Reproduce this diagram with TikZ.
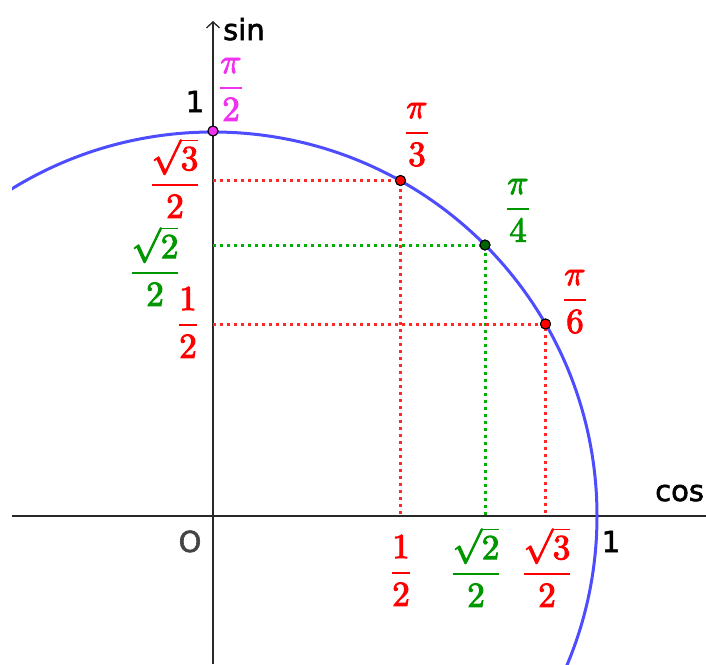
\documentclass[tikz,border=0pt]{standalone}
\usepackage[no-math]{fontspec}
\newfontfamily\labfont{DejaVu Sans}
\usetikzlibrary{arrows.meta}
\definecolor{circblue}{RGB}{77,77,255}
\definecolor{lred}{RGB}{255,0,0}
\definecolor{dred}{RGB}{255,40,40}
\definecolor{lgreen}{RGB}{0,150,0}
\definecolor{dgreen}{RGB}{0,175,0}
\definecolor{ptgreen}{RGB}{0,100,0}
\definecolor{lmag}{RGB}{240,50,240}
\definecolor{axisgray}{RGB}{40,40,40}
\definecolor{ogray}{RGB}{68,68,68}
\newcommand{\heavytext}[2]{\special{pdf:literal direct 2 Tr #1 w}#2\special{pdf:literal direct 0 Tr}}
\newcommand{\bigfrac}[2]{\scalebox{3.5}{\heavytext{0.28}{$\displaystyle\frac{#1}{#2}$}}}
\newcommand{\labtxt}[1]{\heavytext{0.6}{#1}}
\begin{document}
\begin{tikzpicture}[x=1pt,y=-1pt,
  frac/.style={anchor=base, inner sep=0pt},
  lab/.style={anchor=base, inner sep=0pt, font=\labfont\fontsize{29}{34}\selectfont},
  ptdot/.style={circle, draw=black, line width=1pt, minimum size=10pt, inner sep=0pt},
  dots/.style={line width=3pt, dash pattern=on 3pt off 4pt},
  axisline/.style={line width=1.3pt, draw=axisgray}]
\useasboundingbox (0,0) rectangle (706,664);
\coordinate (O) at (213,516);
\coordinate (xl) at (12,516);
\coordinate (xr) at (712,516);
\coordinate (yt) at (213,21);
\coordinate (ybot) at (213,664);
\coordinate (ya) at (213,180.5);
\coordinate (yb) at (213,245);
\coordinate (yc) at (213,324);
\coordinate (xa) at (400.5,516);
\coordinate (xb) at (485,516);
\coordinate (xc) at (545.5,516);
\begin{scope}
  \clip (12,0) rectangle (706,664);
  \draw[axisline] (xl) -- (xr);
  \draw[axisline, -{Straight Barb[length=6pt,width=13pt]}] (ybot) -- (yt);
  \draw[circblue, line width=3pt] (O) circle[radius=384pt];
\end{scope}
% point nodes
\node[ptdot, fill=lmag] (p2) at (213,131) {};
\node[ptdot, fill=lred] (p3) at (400.5,180.5) {};
\node[ptdot, fill=ptgreen] (p4) at (485,245) {};
\node[ptdot, fill=lred] (p6) at (545.5,324) {};
% dotted projections
\draw[dots, dred] (ya) -- (p3.center) -- (xa);
\draw[dots, dgreen] (yb) -- (p4.center) -- (xb);
\draw[dots, dred] (yc) -- (p6.center) -- (xc);
% redraw points on top
\node[ptdot, fill=lmag] at (p2) {};
\node[ptdot, fill=lred] at (p3) {};
\node[ptdot, fill=ptgreen] at (p4) {};
\node[ptdot, fill=lred] at (p6) {};
% axis labels
\node[lab, anchor=base west] (sinl) at (223,40) {\labtxt{sin}};
\node[lab, anchor=base west] (cosl) at (655,501) {\labtxt{cos}};
\node[lab] (one1) at (195,112) {\labtxt{1}};
\node[lab] (one2) at (611,552) {\labtxt{1}};
\node[lab, text=ogray] (ol) at (190,552) {\labtxt{O}};
% angle labels
\node[frac, text=lmag] (l2) at (231,96.75) {\bigfrac{\pi}{2}};
\node[frac, text=lred] (l3) at (417,141.75) {\bigfrac{\pi}{3}};
\node[frac, text=lgreen] (l4) at (518,217.75) {\bigfrac{\pi}{4}};
\node[frac, text=lred] (l6) at (575,308.75) {\bigfrac{\pi}{6}};
% sine values
\node[frac, text=lred] (s3) at (175,193.75) {\bigfrac{\sqrt{3}}{2}};
\node[frac, text=lgreen] (s2) at (155,281.75) {\bigfrac{\sqrt{2}}{2}};
\node[frac, text=lred] (s1) at (188,333.75) {\bigfrac{1}{2}};
% cosine values
\node[frac, text=lred] (c1) at (401,581.75) {\bigfrac{1}{2}};
\node[frac, text=lgreen] (c2) at (476,582.75) {\bigfrac{\sqrt{2}}{2}};
\node[frac, text=lred] (c3) at (547,582.75) {\bigfrac{\sqrt{3}}{2}};
\end{tikzpicture}
\end{document}
